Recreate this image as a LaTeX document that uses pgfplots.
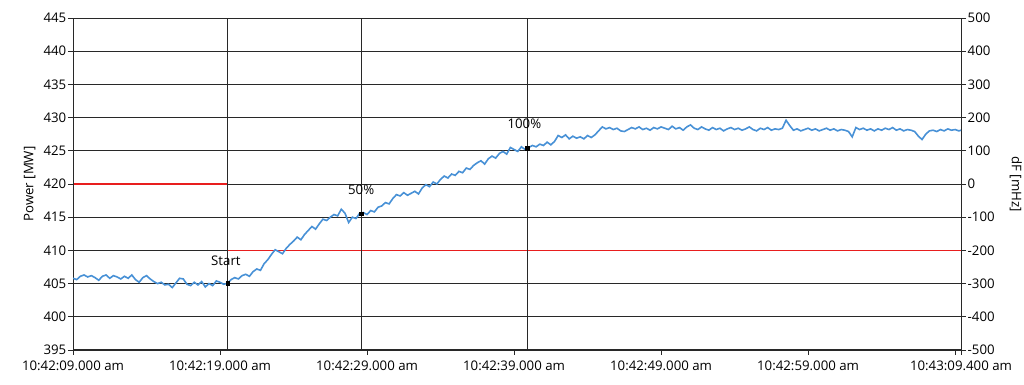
\documentclass[border=0pt]{standalone}
\usepackage{pgfplots}
\pgfplotsset{compat=1.18}
\usepackage{fontspec}
\setmainfont{Open Sans}
\definecolor{pblue}{RGB}{72,145,214}
\definecolor{pred}{RGB}{232,30,30}
\definecolor{gridc}{RGB}{40,40,40}
\newcommand{\fs}{\fontsize{13.3}{15}\selectfont}
\begin{document}
\begin{tikzpicture}
% right axis: dF [mHz] (carries the grid and the red set-point line)
\begin{axis}[
  at={(73bp,35bp)}, anchor=south west, scale only axis,
  width=888bp, height=332bp,
  xmin=0, xmax=60.4, ymin=-500, ymax=500,
  hide x axis,
  axis y line*=right,
  ytick={-500,-400,...,500},
  yticklabels={-500,-400,-300,-200,-100,0,100,200,300,400,500},
  ymajorgrids, grid style={gridc, line width=0.9bp},
  axis line style={gridc, line width=1bp},
  tick style={gridc, line width=0.8bp}, major tick length=5bp, tick align=outside,
  ticklabel style={font=\fs, inner sep=1.5bp},
  ylabel={dF [mHz]}, ylabel style={font=\fs, rotate=180, yshift=10bp},
]
\addplot[pred, line width=2.4bp] coordinates {(0,0) (10.5,0)};
\addplot[pred, line width=1bp] coordinates {(10.5,-200) (60.4,-200)};
\end{axis}
% left axis: Power [MW]
\begin{axis}[
  at={(73bp,35bp)}, anchor=south west, scale only axis,
  width=888bp, height=332bp,
  xmin=0, xmax=60.4, ymin=395, ymax=445,
  axis x line*=bottom, axis y line*=left,
  ytick={395,400,...,445},
  xtick={0,10,20,30,40,50,60,60.4},
  xticklabels={10:42:09.000 am,10:42:19.000 am,10:42:29.000 am,10:42:39.000 am,10:42:49.000 am,10:42:59.000 am,,10:43:09.400 am},
  /pgf/number format/assume math mode=true,
  axis line style={gridc, line width=1bp},
  tick style={gridc, line width=0.8bp}, major tick length=5bp, tick align=outside,
  ticklabel style={font=\fs, inner sep=1.5bp},
  xticklabel style={yshift=-4bp},
  ylabel={Power [MW]}, ylabel style={font=\fs, yshift=3bp},
]
% cursor lines
\addplot[gridc, line width=1bp] coordinates {(10.5,395) (10.5,445)};
\addplot[gridc, line width=1bp] coordinates {(19.6,395) (19.6,445)};
\addplot[gridc, line width=1bp] coordinates {(30.9,395) (30.9,445)};
% power
\addplot[pblue, line width=1.6bp] coordinates {
(0.00,405.8)(0.25,405.6)(0.5,406.1)(0.75,406.3)(1.0,406.0)(1.25,406.2)(1.5,405.9)(1.75,405.5)
(2.0,406.1)(2.25,406.3)(2.5,405.8)(2.75,406.2)(3.0,406.0)(3.25,405.7)(3.5,406.1)(3.75,405.8)
(4.0,406.3)(4.25,405.6)(4.5,405.2)(4.75,405.9)(5.0,406.2)(5.25,405.7)(5.5,405.3)(5.75,405.0)
(6.0,405.2)(6.25,404.8)(6.5,404.9)(6.75,404.4)(7.0,405.1)(7.25,405.8)(7.5,405.7)(7.75,404.9)
(8.0,404.7)(8.25,405.2)(8.5,404.8)(8.75,405.3)(9.0,404.5)(9.25,405.0)(9.5,404.7)(9.75,405.4)
(10.0,405.2)(10.25,404.9)(10.5,405.05)
(10.75,405.6)(11.0,405.9)(11.25,405.7)(11.5,406.2)(11.75,406.4)(12.0,406.1)(12.25,406.8)(12.5,407.2)
(12.75,407.0)(13.0,408.0)(13.25,408.6)(13.5,409.4)(13.75,410.1)(14.0,409.8)(14.25,409.5)(14.5,410.3)
(14.75,410.9)(15.0,411.4)(15.25,412.0)(15.5,411.6)(15.75,412.4)(16.0,413.0)(16.25,413.6)(16.5,413.2)
(16.75,414.0)(17.0,414.7)(17.25,414.5)(17.5,415.0)(17.75,415.4)(18.0,415.2)(18.25,416.2)(18.5,415.6)
(18.75,414.2)(19.0,415.0)(19.25,414.8)(19.5,415.6)(19.75,415.7)(20.0,415.4)(20.25,416.0)(20.5,415.8)
(20.75,416.5)(21.0,416.7)(21.25,417.2)(21.5,417.0)(21.75,417.8)(22.0,418.4)(22.25,418.2)(22.5,418.7)
(22.75,418.3)(23.0,418.6)(23.25,418.9)(23.5,418.5)(23.75,419.4)(24.0,419.9)(24.25,419.6)(24.5,420.3)
(24.75,420.0)(25.0,420.7)(25.25,421.2)(25.5,420.9)(25.75,421.5)(26.0,421.3)(26.25,421.9)(26.5,421.7)
(26.75,422.4)(27.0,422.2)(27.25,422.8)(27.5,423.2)(27.75,423.5)(28.0,423.0)(28.25,423.8)(28.5,424.2)
(28.75,423.9)(29.0,424.6)(29.25,424.9)(29.5,424.5)(29.75,425.5)(30.0,425.2)(30.25,424.9)(30.5,425.6)
(30.75,425.2)(31.0,425.5)(31.25,425.8)(31.5,425.6)(31.75,426.0)(32.0,425.8)(32.25,426.3)(32.5,425.9)
(32.75,426.4)(33.0,427.3)(33.25,427.0)(33.5,427.4)(33.75,426.8)(34.0,427.2)(34.25,426.9)(34.5,427.1)
(34.75,426.8)(35.0,427.3)(35.25,427.0)(35.5,427.4)(35.75,428.0)(36.0,428.6)(36.25,428.3)(36.5,428.5)
(36.75,428.2)(37.0,428.4)(37.25,428.0)(37.5,427.9)(37.75,428.2)(38.0,428.5)(38.25,428.3)(38.5,428.6)
(38.75,428.2)(39.0,428.4)(39.25,428.1)(39.5,428.5)(39.75,428.3)(40.0,428.6)(40.25,428.4)(40.5,428.2)
(40.75,428.7)(41.0,428.3)(41.25,428.5)(41.5,428.1)(41.75,428.6)(42.0,428.9)(42.25,428.4)(42.5,428.2)
(42.75,428.6)(43.0,428.3)(43.25,428.1)(43.5,428.5)(43.75,428.2)(44.0,428.4)(44.25,428.0)(44.5,428.3)
(44.75,428.5)(45.0,428.2)(45.25,428.4)(45.5,428.1)(45.75,428.3)(46.0,428.6)(46.25,428.2)(46.5,428.0)
(46.75,428.4)(47.0,428.2)(47.25,428.5)(47.5,428.1)(47.75,428.3)(48.0,428.2)(48.25,428.4)(48.5,429.6)
(48.75,428.8)(49.0,428.1)(49.25,428.3)(49.5,428.0)(49.75,428.2)(50.0,428.4)(50.25,428.1)(50.5,428.3)
(50.75,428.0)(51.0,428.2)(51.25,428.4)(51.5,428.1)(51.75,428.3)(52.0,428.0)(52.25,428.2)(52.5,428.1)
(52.75,427.9)(53.0,427.1)(53.25,428.5)(53.5,428.2)(53.75,428.4)(54.0,428.1)(54.25,428.3)(54.5,428.0)
(54.75,428.3)(55.0,428.1)(55.25,428.4)(55.5,428.2)(55.75,428.5)(56.0,428.1)(56.25,428.3)(56.5,428.0)
(56.75,428.2)(57.0,428.1)(57.25,427.9)(57.5,427.2)(57.75,426.7)(58.0,427.5)(58.25,428.0)(58.5,428.1)
(58.75,427.9)(59.0,428.2)(59.25,428.0)(59.5,428.3)(59.75,428.1)(60.0,428.2)(60.25,428.0)(60.4,428.1)
};
% cursor markers
\addplot[only marks, mark=square*, mark size=1.6bp, black] coordinates {(10.5,405.05) (19.6,415.5) (30.9,425.4)};
\node[anchor=base, inner sep=0pt, font=\fs, yshift=18bp] at (axis cs:10.4,405.05) {Start};
\node[anchor=base, inner sep=0pt, font=\fs, yshift=19bp] at (axis cs:19.6,415.5) {50\%};
\node[anchor=base, inner sep=0pt, font=\fs, yshift=20bp] at (axis cs:30.7,425.4) {100\%};
\end{axis}
\pgfresetboundingbox
\useasboundingbox (0bp,0bp) rectangle (1024bp,385bp);
\end{tikzpicture}
\end{document}
